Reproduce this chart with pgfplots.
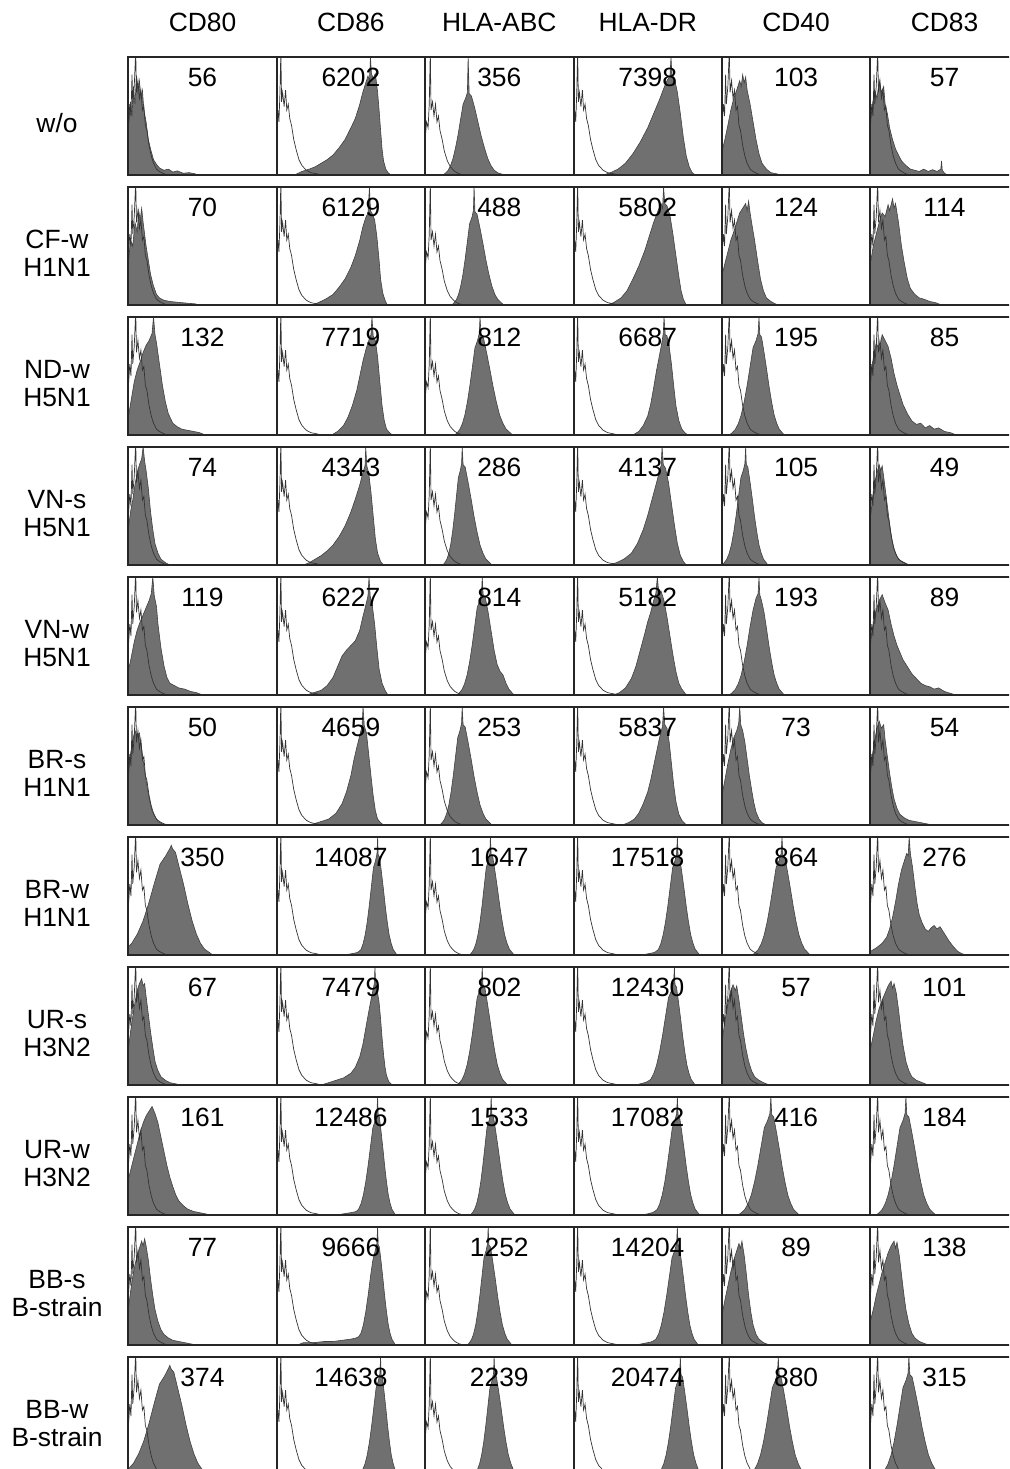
\documentclass[border=0pt]{standalone}
\usepackage{pgfplots}
\usepackage{pgfplotstable}
\pgfplotsset{compat=1.18}
\usepackage{fontspec}
\setmainfont{Liberation Sans}

\pgfplotstableread{
x y
0 0.4
0.01 0.6
0.018 0.5
0.025 0.85
0.03 0.6
0.04 0.75
0.05 1.05
0.055 0.7
0.065 0.8
0.075 0.65
0.085 0.72
0.095 0.55
0.105 0.58
0.115 0.42
0.125 0.38
0.14 0.25
0.155 0.16
0.17 0.1
0.19 0.05
0.21 0.03
0.24 0.01
0.27 0
}\cL
\pgfplotstableread{
x y
0 0.35
0.008 0.55
0.015 0.45
0.022 0.7
0.028 1.05
0.033 0.62
0.04 0.7
0.05 0.58
0.06 0.72
0.068 0.55
0.078 0.6
0.088 0.48
0.1 0.42
0.115 0.3
0.13 0.22
0.15 0.13
0.17 0.08
0.2 0.04
0.23 0.02
0.27 0.01
0.3 0
}\cM
\pgfplotstableread{
x y
0 0.3
0.01 0.45
0.02 0.4
0.028 0.6
0.035 1.05
0.04 0.55
0.05 0.62
0.06 0.5
0.07 0.6
0.08 0.45
0.09 0.5
0.1 0.38
0.115 0.3
0.13 0.2
0.15 0.12
0.17 0.07
0.2 0.03
0.23 0.01
0.26 0
}\cH

\pgfplotsset{
  hist/.style={scale only axis, width=74.2pt, height=59pt, anchor=north west,
    xmin=0, xmax=1, ymin=0, ymax=1, ticks=none,
    axis line style={line width=1pt, black!85}, axis on top, clip=true},
  histfill/.style={fill=black!56, draw=black!75, line width=0.3pt, mark=none},
  ctrl/.style={black!80, line width=0.35pt, mark=none},
}
\tikzset{lab/.style={anchor=base, inner sep=0pt, font=\fontsize{13.2}{15}\selectfont}}

\newcommand{\hp}[5]{%
  \begin{axis}[hist, at={(#1pt,-#2pt)}]
    \addplot[histfill] coordinates {#4} \closedcycle;
    \addplot[ctrl] table[x=x,y=y] {#5};
    \node[lab] at (rel axis cs:0.5,0.748) {#3};
  \end{axis}}

\begin{document}
\begin{tikzpicture}
\useasboundingbox (0,0) rectangle (504.5pt,-734.5pt);
\clip (0,0) rectangle (504.5pt,-734.5pt);

% headers
\node[lab] at (101.25pt,-15.85pt) {CD80};
\node[lab] at (175.45pt,-15.85pt) {CD86};
\node[lab] at (249.65pt,-15.85pt) {HLA-ABC};
\node[lab] at (323.85pt,-15.85pt) {HLA-DR};
\node[lab] at (398.05pt,-15.85pt) {CD40};
\node[lab] at (472.25pt,-15.85pt) {CD83};

% row labels
\node[lab] at (28.5pt,-66pt) {w/o};
\node[lab] at (28.5pt,-124.15pt) {CF-w};   \node[lab] at (28.5pt,-138.35pt) {H1N1};
\node[lab] at (28.5pt,-189.15pt) {ND-w};   \node[lab] at (28.5pt,-203.35pt) {H5N1};
\node[lab] at (28.5pt,-254.15pt) {VN-s};   \node[lab] at (28.5pt,-268.35pt) {H5N1};
\node[lab] at (28.5pt,-319.15pt) {VN-w};   \node[lab] at (28.5pt,-333.35pt) {H5N1};
\node[lab] at (28.5pt,-384.15pt) {BR-s};   \node[lab] at (28.5pt,-398.35pt) {H1N1};
\node[lab] at (28.5pt,-449.15pt) {BR-w};   \node[lab] at (28.5pt,-463.35pt) {H1N1};
\node[lab] at (28.5pt,-514.15pt) {UR-s};   \node[lab] at (28.5pt,-528.35pt) {H3N2};
\node[lab] at (28.5pt,-579.15pt) {UR-w};   \node[lab] at (28.5pt,-593.35pt) {H3N2};
\node[lab] at (28.5pt,-644.15pt) {BB-s};   \node[lab] at (28.5pt,-658.35pt) {B-strain};
\node[lab] at (28.5pt,-709.15pt) {BB-w};   \node[lab] at (28.5pt,-723.35pt) {B-strain};

% ---------- row 1: w/o
\hp{64.15}{28.5}{56}{(0,0)(0,0.4)(0.015,0.62)(0.025,0.5)(0.035,0.75)(0.045,0.6)(0.055,0.84)(0.065,0.7)(0.075,0.8)(0.085,0.66)(0.095,0.72)(0.105,0.55)(0.12,0.45)(0.135,0.3)(0.15,0.22)(0.17,0.13)(0.19,0.09)(0.21,0.06)(0.24,0.04)(0.27,0.05)(0.3,0.025)(0.33,0.035)(0.37,0.015)(0.41,0.02)(0.45,0.01)(0.47,0)}{\cL}
\hp{138.35}{28.5}{6202}{(0.12,0)(0.17,0.03)(0.22,0.05)(0.26,0.07)(0.3,0.1)(0.34,0.13)(0.38,0.17)(0.42,0.23)(0.46,0.3)(0.5,0.4)(0.53,0.48)(0.56,0.6)(0.58,0.7)(0.6,0.78)(0.615,0.84)(0.625,0.8)(0.632,1.0)(0.638,0.86)(0.65,0.82)(0.665,0.86)(0.68,0.7)(0.69,0.55)(0.7,0.38)(0.71,0.22)(0.72,0.12)(0.735,0.05)(0.75,0.02)(0.77,0)}{\cM}
\hp{212.55}{28.5}{356}{(0.12,0)(0.137,0.016)(0.154,0.038)(0.171,0.077)(0.188,0.14)(0.205,0.23)(0.222,0.34)(0.239,0.47)(0.256,0.6)(0.273,0.65)(0.285,0.7)(0.29,1.0)(0.297,0.69)(0.312,0.67)(0.334,0.57)(0.356,0.45)(0.378,0.33)(0.4,0.23)(0.422,0.14)(0.444,0.08)(0.466,0.04)(0.488,0.02)(0.51,0.01)(0.54,0)}{\cH}
\hp{286.75}{28.5}{7398}{(0.2,0)(0.25,0.02)(0.3,0.05)(0.35,0.1)(0.4,0.18)(0.45,0.28)(0.5,0.4)(0.54,0.52)(0.58,0.64)(0.61,0.74)(0.63,0.8)(0.65,0.84)(0.657,1.0)(0.663,0.85)(0.68,0.82)(0.7,0.7)(0.72,0.52)(0.74,0.32)(0.76,0.16)(0.78,0.07)(0.8,0.02)(0.82,0)}{\cM}
\hp{360.95}{28.5}{103}{(0,0)(0,0.2)(0.02,0.3)(0.04,0.42)(0.06,0.55)(0.08,0.65)(0.1,0.72)(0.12,0.8)(0.13,0.75)(0.14,0.85)(0.15,0.78)(0.16,0.83)(0.17,0.72)(0.19,0.6)(0.21,0.45)(0.23,0.3)(0.25,0.18)(0.27,0.1)(0.3,0.05)(0.33,0.02)(0.37,0.01)(0.4,0)}{\cL}
\hp{435.15}{28.5}{57}{(0,0)(0,0.45)(0.015,0.6)(0.03,0.72)(0.045,0.65)(0.06,0.8)(0.075,0.7)(0.09,0.75)(0.1,0.6)(0.115,0.52)(0.13,0.4)(0.15,0.3)(0.17,0.22)(0.19,0.17)(0.21,0.12)(0.24,0.08)(0.27,0.05)(0.3,0.04)(0.33,0.03)(0.36,0.05)(0.39,0.03)(0.42,0.045)(0.45,0.03)(0.475,0.05)(0.48,0.12)(0.485,0.04)(0.5,0.015)(0.52,0)}{\cL}

% ---------- row 2: CF-w H1N1
\hp{64.15}{93.5}{70}{(0,0)(0,0.35)(0.015,0.55)(0.03,0.5)(0.045,0.7)(0.06,0.62)(0.07,0.8)(0.08,0.72)(0.09,0.82)(0.1,0.7)(0.11,0.6)(0.12,0.5)(0.135,0.38)(0.15,0.26)(0.17,0.16)(0.19,0.09)(0.21,0.06)(0.24,0.04)(0.28,0.03)(0.32,0.025)(0.36,0.02)(0.4,0.015)(0.45,0.01)(0.48,0)}{\cL}
\hp{138.35}{93.5}{6129}{(0.24,0)(0.28,0.02)(0.33,0.05)(0.38,0.09)(0.42,0.15)(0.46,0.22)(0.5,0.32)(0.53,0.42)(0.56,0.55)(0.58,0.66)(0.6,0.74)(0.615,0.78)(0.625,1.0)(0.632,0.8)(0.645,0.77)(0.66,0.72)(0.675,0.58)(0.69,0.38)(0.7,0.22)(0.715,0.1)(0.73,0.04)(0.745,0)}{\cM}
\hp{212.55}{93.5}{488}{(0.18,0)(0.195,0.019)(0.21,0.044)(0.225,0.088)(0.24,0.16)(0.255,0.26)(0.27,0.39)(0.285,0.54)(0.3,0.69)(0.315,0.74)(0.3255,0.8)(0.33,1.0)(0.336,0.79)(0.35,0.77)(0.37,0.65)(0.39,0.52)(0.41,0.38)(0.43,0.26)(0.45,0.16)(0.47,0.09)(0.49,0.047)(0.51,0.023)(0.53,0)}{\cH}
\hp{286.75}{93.5}{5802}{(0.22,0)(0.27,0.02)(0.32,0.06)(0.36,0.12)(0.4,0.22)(0.44,0.33)(0.48,0.46)(0.51,0.58)(0.54,0.7)(0.57,0.8)(0.59,0.86)(0.6,0.82)(0.607,1.0)(0.615,0.86)(0.63,0.84)(0.65,0.76)(0.67,0.6)(0.69,0.42)(0.71,0.24)(0.725,0.12)(0.74,0.05)(0.76,0)}{\cM}
\hp{360.95}{93.5}{124}{(0,0)(0,0.25)(0.02,0.35)(0.04,0.45)(0.06,0.55)(0.08,0.62)(0.1,0.7)(0.12,0.78)(0.14,0.82)(0.16,0.86)(0.17,0.8)(0.18,0.88)(0.19,0.78)(0.2,0.7)(0.22,0.55)(0.24,0.38)(0.26,0.22)(0.28,0.12)(0.3,0.06)(0.33,0.03)(0.36,0.01)(0.38,0)}{\cL}
\hp{435.15}{93.5}{114}{(0,0)(0,0.35)(0.02,0.5)(0.04,0.6)(0.06,0.7)(0.08,0.78)(0.1,0.75)(0.12,0.85)(0.13,0.8)(0.15,0.9)(0.16,0.82)(0.17,0.86)(0.19,0.7)(0.21,0.5)(0.23,0.35)(0.25,0.22)(0.27,0.14)(0.3,0.09)(0.33,0.06)(0.36,0.05)(0.4,0.03)(0.44,0.02)(0.48,0)}{\cL}

% ---------- row 3: ND-w H5N1
\hp{64.15}{158.5}{132}{(0,0)(0,0.15)(0.02,0.3)(0.04,0.45)(0.06,0.55)(0.08,0.62)(0.1,0.7)(0.12,0.76)(0.14,0.8)(0.16,0.86)(0.17,1.0)(0.18,0.85)(0.19,0.78)(0.21,0.6)(0.23,0.42)(0.25,0.28)(0.27,0.18)(0.3,0.1)(0.33,0.07)(0.36,0.05)(0.4,0.04)(0.44,0.03)(0.48,0.02)(0.52,0)}{\cL}
\hp{138.35}{158.5}{7719}{(0.37,0)(0.41,0.03)(0.45,0.08)(0.48,0.15)(0.51,0.25)(0.54,0.38)(0.56,0.5)(0.58,0.62)(0.6,0.72)(0.62,0.8)(0.635,0.85)(0.642,1.0)(0.65,0.84)(0.665,0.8)(0.68,0.66)(0.695,0.45)(0.71,0.25)(0.725,0.12)(0.74,0.05)(0.76,0.02)(0.78,0)}{\cM}
\hp{212.55}{158.5}{812}{(0.2,0)(0.217,0.02)(0.234,0.047)(0.251,0.095)(0.268,0.17)(0.285,0.28)(0.302,0.42)(0.319,0.58)(0.336,0.74)(0.353,0.8)(0.365,0.86)(0.37,1.0)(0.377,0.85)(0.392,0.83)(0.414,0.7)(0.436,0.56)(0.458,0.41)(0.48,0.28)(0.502,0.17)(0.524,0.1)(0.546,0.05)(0.568,0.025)(0.59,0)}{\cH}
\hp{286.75}{158.5}{6687}{(0.4,0)(0.44,0.03)(0.47,0.08)(0.5,0.16)(0.52,0.26)(0.54,0.4)(0.56,0.55)(0.58,0.68)(0.595,0.78)(0.605,0.86)(0.61,1.0)(0.618,0.85)(0.63,0.84)(0.645,0.75)(0.66,0.6)(0.675,0.42)(0.69,0.25)(0.71,0.12)(0.73,0.05)(0.75,0.02)(0.77,0)}{\cM}
\hp{360.95}{158.5}{195}{(0.05,0)(0.07,0.02)(0.09,0.047)(0.11,0.095)(0.13,0.17)(0.15,0.28)(0.17,0.42)(0.19,0.58)(0.21,0.74)(0.23,0.8)(0.244,0.86)(0.25,1.0)(0.2551,0.85)(0.267,0.83)(0.284,0.7)(0.301,0.56)(0.318,0.41)(0.335,0.28)(0.352,0.17)(0.369,0.1)(0.386,0.05)(0.403,0.025)(0.42,0)}{\cL}
\hp{435.15}{158.5}{85}{(0,0)(0,0.5)(0.02,0.65)(0.04,0.78)(0.06,0.72)(0.08,0.85)(0.1,0.8)(0.12,0.75)(0.14,0.65)(0.16,0.52)(0.18,0.42)(0.2,0.34)(0.22,0.26)(0.25,0.18)(0.28,0.12)(0.31,0.09)(0.34,0.1)(0.37,0.06)(0.4,0.08)(0.43,0.05)(0.46,0.06)(0.5,0.03)(0.54,0.02)(0.58,0)}{\cL}

% ---------- row 4: VN-s H5N1
\hp{64.15}{223.5}{74}{(0,0)(0,0.3)(0.015,0.45)(0.03,0.55)(0.045,0.68)(0.06,0.78)(0.075,0.85)(0.09,0.9)(0.1,1.0)(0.11,0.88)(0.12,0.8)(0.135,0.65)(0.15,0.45)(0.165,0.3)(0.18,0.18)(0.2,0.1)(0.22,0.05)(0.25,0.02)(0.28,0)}{\cL}
\hp{138.35}{223.5}{4343}{(0.18,0)(0.22,0.02)(0.26,0.05)(0.3,0.08)(0.34,0.12)(0.38,0.17)(0.42,0.24)(0.46,0.33)(0.5,0.45)(0.53,0.56)(0.56,0.68)(0.58,0.78)(0.595,0.84)(0.6,1.0)(0.607,0.84)(0.62,0.78)(0.635,0.62)(0.65,0.42)(0.665,0.22)(0.68,0.1)(0.7,0.03)(0.72,0)}{\cM}
\hp{212.55}{223.5}{286}{(0.12,0)(0.133,0.02)(0.146,0.047)(0.159,0.095)(0.172,0.17)(0.185,0.28)(0.198,0.42)(0.211,0.58)(0.224,0.74)(0.237,0.8)(0.246,0.86)(0.25,1.0)(0.256,0.85)(0.27,0.83)(0.29,0.7)(0.31,0.56)(0.33,0.41)(0.35,0.28)(0.37,0.17)(0.39,0.1)(0.41,0.05)(0.43,0.025)(0.45,0)}{\cH}
\hp{286.75}{223.5}{4137}{(0.24,0)(0.29,0.02)(0.34,0.05)(0.39,0.1)(0.43,0.18)(0.47,0.3)(0.5,0.42)(0.53,0.56)(0.56,0.7)(0.58,0.8)(0.59,0.84)(0.597,1.0)(0.605,0.85)(0.62,0.82)(0.64,0.7)(0.66,0.52)(0.68,0.34)(0.7,0.18)(0.72,0.08)(0.74,0.03)(0.76,0)}{\cM}
\hp{360.95}{223.5}{105}{(0,0)(0.016,0.02)(0.032,0.047)(0.048,0.095)(0.064,0.17)(0.08,0.28)(0.096,0.42)(0.112,0.58)(0.128,0.74)(0.144,0.8)(0.155,0.86)(0.16,1.0)(0.1645,0.85)(0.175,0.83)(0.19,0.7)(0.205,0.56)(0.22,0.41)(0.235,0.28)(0.25,0.17)(0.265,0.1)(0.28,0.05)(0.295,0.025)(0.31,0)}{\cL}
\hp{435.15}{223.5}{49}{(0,0)(0,0.4)(0.015,0.55)(0.03,0.7)(0.045,0.78)(0.06,0.85)(0.07,0.8)(0.08,0.84)(0.09,0.75)(0.1,0.65)(0.115,0.5)(0.13,0.35)(0.145,0.22)(0.16,0.13)(0.18,0.07)(0.2,0.04)(0.23,0.02)(0.26,0)}{\cL}

% ---------- row 5: VN-w H5N1
\hp{64.15}{288.5}{119}{(0,0)(0,0.2)(0.02,0.32)(0.04,0.45)(0.06,0.55)(0.08,0.62)(0.1,0.68)(0.12,0.74)(0.14,0.8)(0.155,0.86)(0.165,1.0)(0.175,0.84)(0.19,0.75)(0.2,0.6)(0.22,0.4)(0.24,0.25)(0.26,0.15)(0.28,0.1)(0.31,0.08)(0.34,0.06)(0.38,0.05)(0.42,0.03)(0.46,0.02)(0.5,0)}{\cL}
\hp{138.35}{288.5}{6227}{(0.2,0)(0.25,0.02)(0.3,0.04)(0.34,0.08)(0.38,0.15)(0.41,0.24)(0.44,0.33)(0.47,0.38)(0.5,0.42)(0.53,0.46)(0.56,0.55)(0.58,0.66)(0.6,0.76)(0.615,0.84)(0.622,1.0)(0.63,0.84)(0.645,0.75)(0.66,0.6)(0.675,0.4)(0.69,0.22)(0.71,0.1)(0.73,0.04)(0.75,0)}{\cM}
\hp{212.55}{288.5}{814}{(0.215,0)(0.232,0.02)(0.249,0.047)(0.266,0.095)(0.283,0.17)(0.3,0.28)(0.317,0.42)(0.334,0.58)(0.351,0.74)(0.368,0.8)(0.38,0.86)(0.385,1.0)(0.391,0.85)(0.405,0.83)(0.425,0.7)(0.445,0.54)(0.465,0.38)(0.485,0.26)(0.505,0.2)(0.525,0.17)(0.545,0.1)(0.565,0.05)(0.585,0.02)(0.6,0)}{\cH}
\hp{286.75}{288.5}{5182}{(0.27,0)(0.31,0.02)(0.35,0.06)(0.39,0.14)(0.42,0.24)(0.45,0.38)(0.48,0.52)(0.5,0.62)(0.52,0.7)(0.54,0.8)(0.555,0.86)(0.565,1.0)(0.575,0.86)(0.59,0.88)(0.61,0.8)(0.63,0.66)(0.65,0.5)(0.67,0.34)(0.69,0.2)(0.71,0.1)(0.73,0.05)(0.76,0)}{\cM}
\hp{360.95}{288.5}{193}{(0.05,0)(0.07,0.02)(0.09,0.047)(0.11,0.095)(0.13,0.17)(0.15,0.28)(0.17,0.42)(0.19,0.58)(0.21,0.72)(0.23,0.82)(0.244,0.86)(0.25,1.0)(0.2551,0.85)(0.267,0.8)(0.284,0.7)(0.301,0.56)(0.318,0.41)(0.335,0.28)(0.352,0.17)(0.369,0.1)(0.386,0.05)(0.403,0.025)(0.42,0)}{\cL}
\hp{435.15}{288.5}{89}{(0,0)(0,0.45)(0.02,0.6)(0.04,0.72)(0.06,0.8)(0.08,0.85)(0.1,0.78)(0.12,0.72)(0.14,0.6)(0.16,0.5)(0.18,0.42)(0.2,0.36)(0.22,0.3)(0.25,0.24)(0.28,0.18)(0.31,0.14)(0.34,0.1)(0.37,0.08)(0.4,0.07)(0.43,0.05)(0.46,0.06)(0.5,0.03)(0.55,0.01)(0.58,0)}{\cL}

% ---------- row 6: BR-s H1N1
\hp{64.15}{353.5}{50}{(0,0)(0,0.45)(0.015,0.6)(0.03,0.72)(0.045,0.8)(0.06,0.75)(0.075,0.78)(0.09,0.65)(0.1,0.55)(0.115,0.42)(0.13,0.3)(0.145,0.2)(0.16,0.12)(0.18,0.07)(0.2,0.03)(0.23,0.01)(0.26,0)}{\cL}
\hp{138.35}{353.5}{4659}{(0.2,0)(0.25,0.01)(0.3,0.03)(0.35,0.05)(0.4,0.1)(0.44,0.18)(0.47,0.28)(0.5,0.42)(0.52,0.55)(0.54,0.66)(0.56,0.76)(0.575,0.84)(0.582,1.0)(0.59,0.84)(0.605,0.78)(0.62,0.6)(0.635,0.42)(0.65,0.25)(0.665,0.12)(0.68,0.05)(0.7,0.02)(0.72,0)}{\cM}
\hp{212.55}{353.5}{253}{(0.1,0)(0.115,0.02)(0.13,0.047)(0.145,0.095)(0.16,0.17)(0.175,0.28)(0.19,0.42)(0.205,0.58)(0.22,0.74)(0.235,0.8)(0.2455,0.86)(0.25,1.0)(0.256,0.85)(0.27,0.83)(0.29,0.7)(0.31,0.56)(0.33,0.41)(0.35,0.28)(0.37,0.17)(0.39,0.1)(0.41,0.05)(0.43,0.025)(0.45,0)}{\cH}
\hp{286.75}{353.5}{5837}{(0.33,0)(0.37,0.02)(0.41,0.05)(0.44,0.1)(0.47,0.18)(0.5,0.28)(0.52,0.38)(0.54,0.5)(0.56,0.62)(0.58,0.74)(0.6,0.84)(0.607,1.0)(0.615,0.85)(0.63,0.82)(0.645,0.7)(0.66,0.52)(0.675,0.34)(0.69,0.2)(0.71,0.09)(0.73,0.04)(0.76,0)}{\cM}
\hp{360.95}{353.5}{73}{(0,0)(0,0.25)(0.02,0.38)(0.04,0.52)(0.06,0.64)(0.08,0.74)(0.1,0.8)(0.113,0.86)(0.12,1.0)(0.127,0.85)(0.14,0.8)(0.155,0.7)(0.17,0.56)(0.185,0.42)(0.2,0.3)(0.215,0.19)(0.23,0.11)(0.25,0.05)(0.27,0.02)(0.3,0)}{\cL}
\hp{435.15}{353.5}{54}{(0,0)(0,0.45)(0.015,0.6)(0.03,0.72)(0.045,0.82)(0.06,0.88)(0.075,0.82)(0.09,0.85)(0.1,0.72)(0.115,0.58)(0.13,0.44)(0.145,0.32)(0.16,0.22)(0.18,0.14)(0.2,0.09)(0.23,0.06)(0.26,0.04)(0.3,0.03)(0.34,0.02)(0.38,0.01)(0.42,0)}{\cL}

% ---------- row 7: BR-w H1N1
\hp{64.15}{418.5}{350}{(-0.09,0)(-0.052,0.02)(-0.014,0.05)(0.024,0.1)(0.062,0.18)(0.1,0.29)(0.138,0.44)(0.176,0.61)(0.214,0.77)(0.252,0.84)(0.279,0.9)(0.29,0.93)(0.298,0.9)(0.318,0.87)(0.346,0.73)(0.374,0.59)(0.402,0.43)(0.43,0.29)(0.458,0.18)(0.486,0.1)(0.514,0.05)(0.542,0.025)(0.57,0)}{\cL}
\hp{138.35}{418.5}{14087}{(0.45,0)(0.5,0.01)(0.54,0.02)(0.554,0.03)(0.568,0.047)(0.582,0.095)(0.596,0.17)(0.61,0.28)(0.624,0.42)(0.638,0.58)(0.652,0.74)(0.666,0.8)(0.676,0.86)(0.68,1.0)(0.684,0.85)(0.693,0.83)(0.706,0.7)(0.719,0.56)(0.732,0.41)(0.745,0.28)(0.758,0.17)(0.771,0.1)(0.784,0.05)(0.797,0.025)(0.81,0)}{\cM}
\hp{212.55}{418.5}{1647}{(0.3,0)(0.314,0.02)(0.328,0.047)(0.342,0.095)(0.356,0.17)(0.37,0.28)(0.384,0.42)(0.398,0.58)(0.412,0.74)(0.426,0.8)(0.436,0.86)(0.44,1.0)(0.445,0.85)(0.456,0.83)(0.472,0.7)(0.488,0.56)(0.504,0.41)(0.52,0.28)(0.536,0.17)(0.552,0.1)(0.568,0.05)(0.584,0.025)(0.6,0)}{\cH}
\hp{286.75}{418.5}{17518}{(0.46,0)(0.5,0.01)(0.54,0.02)(0.556,0.03)(0.572,0.047)(0.588,0.095)(0.604,0.17)(0.62,0.28)(0.636,0.42)(0.652,0.58)(0.668,0.74)(0.684,0.8)(0.695,0.86)(0.7,1.0)(0.7045,0.85)(0.715,0.83)(0.73,0.7)(0.745,0.56)(0.76,0.41)(0.775,0.28)(0.79,0.17)(0.805,0.1)(0.82,0.05)(0.835,0.025)(0.85,0)}{\cM}
\hp{360.95}{418.5}{864}{(0.205,0)(0.225,0.02)(0.245,0.047)(0.265,0.095)(0.285,0.17)(0.305,0.28)(0.325,0.42)(0.345,0.58)(0.365,0.74)(0.385,0.8)(0.399,0.86)(0.405,1.0)(0.4107,0.85)(0.424,0.83)(0.443,0.7)(0.462,0.56)(0.481,0.41)(0.5,0.28)(0.519,0.17)(0.538,0.1)(0.557,0.05)(0.576,0.025)(0.595,0)}{\cL}
\hp{435.15}{418.5}{276}{(0,0)(0,0.03)(0.04,0.06)(0.08,0.1)(0.11,0.15)(0.13,0.22)(0.15,0.32)(0.17,0.45)(0.19,0.6)(0.21,0.72)(0.23,0.8)(0.245,0.86)(0.255,0.84)(0.262,1.0)(0.27,0.86)(0.285,0.74)(0.3,0.58)(0.315,0.44)(0.33,0.34)(0.35,0.27)(0.37,0.22)(0.39,0.2)(0.41,0.23)(0.43,0.25)(0.45,0.22)(0.47,0.24)(0.49,0.2)(0.51,0.16)(0.53,0.12)(0.56,0.07)(0.59,0.03)(0.62,0.01)(0.65,0)}{\cL}

% ---------- row 8: UR-s H3N2
\hp{64.15}{483.5}{67}{(0,0)(0,0.3)(0.015,0.45)(0.03,0.58)(0.045,0.7)(0.06,0.8)(0.075,0.86)(0.09,0.9)(0.1,0.84)(0.11,0.86)(0.12,0.75)(0.135,0.6)(0.15,0.45)(0.165,0.32)(0.18,0.2)(0.2,0.12)(0.22,0.07)(0.25,0.04)(0.28,0.02)(0.32,0.01)(0.35,0)}{\cL}
\hp{138.35}{483.5}{7479}{(0.3,0)(0.35,0.02)(0.4,0.04)(0.45,0.06)(0.5,0.1)(0.53,0.15)(0.56,0.24)(0.58,0.34)(0.6,0.48)(0.62,0.62)(0.635,0.72)(0.648,0.8)(0.658,0.86)(0.662,1.0)(0.667,0.85)(0.675,0.82)(0.69,0.7)(0.7,0.56)(0.71,0.4)(0.72,0.26)(0.73,0.15)(0.74,0.08)(0.755,0.03)(0.77,0.01)(0.78,0)}{\cM}
\hp{212.55}{483.5}{802}{(0.215,0)(0.232,0.02)(0.249,0.047)(0.266,0.095)(0.283,0.17)(0.3,0.28)(0.317,0.42)(0.334,0.58)(0.351,0.74)(0.368,0.8)(0.38,0.86)(0.385,1.0)(0.39,0.85)(0.402,0.83)(0.419,0.7)(0.436,0.56)(0.453,0.41)(0.47,0.28)(0.487,0.17)(0.504,0.1)(0.521,0.05)(0.538,0.025)(0.555,0)}{\cH}
\hp{286.75}{483.5}{12430}{(0.42,0)(0.45,0.01)(0.48,0.02)(0.5,0.03)(0.52,0.047)(0.54,0.095)(0.56,0.17)(0.58,0.28)(0.6,0.42)(0.62,0.58)(0.64,0.74)(0.66,0.8)(0.674,0.86)(0.68,1.0)(0.684,0.85)(0.694,0.83)(0.708,0.7)(0.722,0.56)(0.736,0.41)(0.75,0.28)(0.764,0.17)(0.778,0.1)(0.792,0.05)(0.806,0.025)(0.82,0)}{\cM}
\hp{360.95}{483.5}{57}{(0,0)(0,0.35)(0.015,0.5)(0.03,0.62)(0.045,0.72)(0.06,0.8)(0.075,0.85)(0.09,0.8)(0.1,0.84)(0.115,0.72)(0.13,0.58)(0.145,0.44)(0.16,0.32)(0.18,0.2)(0.2,0.12)(0.22,0.07)(0.25,0.04)(0.28,0.02)(0.32,0)}{\cL}
\hp{435.15}{483.5}{101}{(0,0)(0,0.3)(0.02,0.42)(0.04,0.55)(0.06,0.65)(0.08,0.72)(0.1,0.78)(0.12,0.84)(0.14,0.88)(0.15,0.82)(0.16,0.86)(0.175,0.78)(0.19,0.64)(0.205,0.48)(0.22,0.34)(0.24,0.2)(0.26,0.12)(0.28,0.07)(0.31,0.04)(0.35,0.02)(0.39,0)}{\cL}

% ---------- row 9: UR-w H3N2
\hp{64.15}{548.5}{161}{(0,0)(0,0.3)(0.02,0.4)(0.04,0.5)(0.06,0.6)(0.08,0.7)(0.1,0.78)(0.12,0.84)(0.14,0.88)(0.16,0.92)(0.18,0.86)(0.2,0.78)(0.22,0.66)(0.24,0.54)(0.26,0.42)(0.28,0.32)(0.3,0.24)(0.32,0.17)(0.34,0.12)(0.37,0.08)(0.4,0.05)(0.44,0.03)(0.48,0.02)(0.52,0.01)(0.55,0)}{\cL}
\hp{138.35}{548.5}{12486}{(0.4,0)(0.45,0.01)(0.5,0.02)(0.52,0.025)(0.536,0.03)(0.552,0.05)(0.568,0.095)(0.584,0.17)(0.6,0.28)(0.616,0.42)(0.632,0.58)(0.648,0.74)(0.664,0.8)(0.675,0.86)(0.68,1.0)(0.684,0.85)(0.692,0.83)(0.704,0.7)(0.716,0.56)(0.728,0.41)(0.74,0.28)(0.752,0.17)(0.764,0.1)(0.776,0.05)(0.788,0.025)(0.8,0)}{\cM}
\hp{212.55}{548.5}{1533}{(0.305,0)(0.319,0.02)(0.333,0.047)(0.347,0.095)(0.361,0.17)(0.375,0.28)(0.389,0.42)(0.403,0.58)(0.417,0.74)(0.431,0.8)(0.441,0.86)(0.445,1.0)(0.45,0.85)(0.461,0.83)(0.477,0.7)(0.493,0.56)(0.509,0.41)(0.525,0.28)(0.541,0.17)(0.557,0.1)(0.573,0.05)(0.589,0.025)(0.605,0)}{\cH}
\hp{286.75}{548.5}{17082}{(0.46,0)(0.5,0.01)(0.53,0.02)(0.547,0.03)(0.564,0.047)(0.581,0.095)(0.598,0.17)(0.615,0.28)(0.632,0.42)(0.649,0.58)(0.666,0.74)(0.683,0.8)(0.695,0.86)(0.7,1.0)(0.7045,0.85)(0.715,0.83)(0.73,0.7)(0.745,0.56)(0.76,0.41)(0.775,0.28)(0.79,0.17)(0.805,0.1)(0.82,0.05)(0.835,0.025)(0.85,0)}{\cM}
\hp{360.95}{548.5}{416}{(0.11,0)(0.132,0.02)(0.154,0.047)(0.176,0.095)(0.198,0.17)(0.22,0.28)(0.242,0.42)(0.264,0.58)(0.286,0.74)(0.308,0.8)(0.3234,0.86)(0.33,1.0)(0.3357,0.85)(0.349,0.83)(0.368,0.7)(0.387,0.56)(0.406,0.41)(0.425,0.28)(0.444,0.17)(0.463,0.1)(0.482,0.05)(0.501,0.025)(0.52,0)}{\cL}
\hp{435.15}{548.5}{184}{(0.04,0)(0.06,0.02)(0.08,0.047)(0.1,0.095)(0.12,0.17)(0.14,0.28)(0.16,0.42)(0.18,0.58)(0.2,0.74)(0.22,0.8)(0.234,0.86)(0.24,1.0)(0.246,0.85)(0.26,0.83)(0.28,0.7)(0.3,0.56)(0.32,0.41)(0.34,0.28)(0.36,0.17)(0.38,0.1)(0.4,0.05)(0.42,0.025)(0.44,0)}{\cL}

% ---------- row 10: BB-s B-strain
\hp{64.15}{613.5}{77}{(0,0)(0,0.3)(0.015,0.45)(0.03,0.58)(0.045,0.68)(0.06,0.76)(0.075,0.82)(0.09,0.88)(0.1,0.84)(0.11,0.9)(0.12,0.84)(0.135,0.72)(0.15,0.56)(0.165,0.42)(0.18,0.3)(0.2,0.2)(0.22,0.13)(0.24,0.09)(0.27,0.06)(0.3,0.04)(0.34,0.03)(0.38,0.02)(0.42,0.01)(0.46,0)}{\cL}
\hp{138.35}{613.5}{9666}{(0.14,0)(0.18,0.02)(0.25,0.02)(0.32,0.03)(0.38,0.03)(0.44,0.04)(0.5,0.05)(0.536,0.06)(0.552,0.07)(0.568,0.1)(0.584,0.17)(0.6,0.28)(0.616,0.42)(0.632,0.58)(0.648,0.72)(0.664,0.8)(0.675,0.86)(0.68,1.0)(0.684,0.85)(0.692,0.83)(0.704,0.7)(0.716,0.56)(0.728,0.41)(0.74,0.28)(0.752,0.17)(0.764,0.1)(0.776,0.05)(0.788,0.025)(0.8,0)}{\cM}
\hp{212.55}{613.5}{1252}{(0.285,0)(0.299,0.02)(0.313,0.047)(0.327,0.095)(0.341,0.17)(0.355,0.28)(0.369,0.42)(0.383,0.58)(0.397,0.74)(0.411,0.8)(0.421,0.86)(0.425,1.0)(0.43,0.85)(0.441,0.83)(0.457,0.7)(0.473,0.56)(0.489,0.41)(0.505,0.28)(0.521,0.17)(0.537,0.1)(0.553,0.05)(0.569,0.025)(0.585,0)}{\cH}
\hp{286.75}{613.5}{14204}{(0.42,0)(0.46,0.01)(0.5,0.02)(0.52,0.025)(0.538,0.035)(0.556,0.05)(0.574,0.095)(0.592,0.17)(0.61,0.28)(0.628,0.42)(0.646,0.58)(0.664,0.74)(0.682,0.8)(0.6946,0.86)(0.7,1.0)(0.704,0.85)(0.714,0.83)(0.728,0.7)(0.742,0.56)(0.756,0.41)(0.77,0.28)(0.784,0.17)(0.798,0.1)(0.812,0.05)(0.826,0.025)(0.84,0)}{\cM}
\hp{360.95}{613.5}{89}{(0,0)(0,0.25)(0.02,0.38)(0.04,0.5)(0.06,0.62)(0.08,0.72)(0.1,0.8)(0.115,0.86)(0.125,0.82)(0.135,0.88)(0.15,0.76)(0.165,0.6)(0.18,0.42)(0.195,0.28)(0.21,0.17)(0.23,0.09)(0.25,0.05)(0.28,0.02)(0.32,0)}{\cL}
\hp{435.15}{613.5}{138}{(0,0)(0,0.2)(0.02,0.3)(0.04,0.42)(0.06,0.52)(0.08,0.62)(0.1,0.7)(0.12,0.78)(0.14,0.84)(0.16,0.88)(0.17,0.82)(0.18,0.87)(0.195,0.76)(0.21,0.6)(0.225,0.44)(0.24,0.3)(0.26,0.18)(0.28,0.1)(0.3,0.06)(0.33,0.03)(0.37,0.01)(0.4,0)}{\cL}

% ---------- row 11: BB-w B-strain
\hp{64.15}{678.5}{374}{(-0.07,0)(-0.035,0.02)(0,0.05)(0.035,0.1)(0.07,0.18)(0.105,0.29)(0.14,0.44)(0.175,0.61)(0.21,0.77)(0.245,0.84)(0.2695,0.9)(0.28,0.93)(0.288,0.9)(0.307,0.87)(0.334,0.73)(0.361,0.59)(0.388,0.43)(0.415,0.29)(0.442,0.18)(0.469,0.1)(0.496,0.05)(0.523,0.025)(0.55,0)}{\cL}
\hp{138.35}{678.5}{14638}{(0.45,0)(0.5,0.01)(0.55,0.02)(0.565,0.025)(0.58,0.047)(0.595,0.095)(0.61,0.17)(0.625,0.28)(0.64,0.42)(0.655,0.58)(0.67,0.74)(0.685,0.8)(0.6955,0.86)(0.7,1.0)(0.7036,0.85)(0.712,0.83)(0.724,0.7)(0.736,0.56)(0.748,0.41)(0.76,0.28)(0.772,0.17)(0.784,0.1)(0.796,0.05)(0.808,0.025)(0.82,0)}{\cM}
\hp{212.55}{678.5}{2239}{(0.325,0)(0.339,0.02)(0.353,0.047)(0.367,0.095)(0.381,0.17)(0.395,0.28)(0.409,0.42)(0.423,0.58)(0.437,0.74)(0.451,0.8)(0.461,0.86)(0.465,1.0)(0.47,0.85)(0.481,0.83)(0.497,0.7)(0.513,0.56)(0.529,0.41)(0.545,0.28)(0.561,0.17)(0.577,0.1)(0.593,0.05)(0.609,0.025)(0.625,0)}{\cH}
\hp{286.75}{678.5}{20474}{(0.48,0)(0.52,0.01)(0.56,0.02)(0.576,0.03)(0.592,0.047)(0.608,0.095)(0.624,0.17)(0.64,0.28)(0.656,0.42)(0.672,0.58)(0.688,0.74)(0.704,0.8)(0.715,0.86)(0.72,1.0)(0.7245,0.85)(0.735,0.83)(0.75,0.7)(0.765,0.56)(0.78,0.41)(0.795,0.28)(0.81,0.17)(0.825,0.1)(0.84,0.05)(0.855,0.025)(0.87,0)}{\cM}
\hp{360.95}{678.5}{880}{(0.18,0)(0.2,0.02)(0.22,0.047)(0.24,0.095)(0.26,0.17)(0.28,0.28)(0.3,0.42)(0.32,0.58)(0.34,0.74)(0.36,0.8)(0.374,0.86)(0.38,1.0)(0.3857,0.85)(0.399,0.83)(0.418,0.7)(0.437,0.56)(0.456,0.41)(0.475,0.28)(0.494,0.17)(0.513,0.1)(0.532,0.05)(0.551,0.025)(0.57,0)}{\cL}
\hp{435.15}{678.5}{315}{(0.06,0)(0.08,0.02)(0.1,0.047)(0.12,0.095)(0.14,0.17)(0.16,0.28)(0.18,0.42)(0.2,0.58)(0.22,0.74)(0.24,0.8)(0.254,0.86)(0.26,1.0)(0.2666,0.85)(0.282,0.83)(0.304,0.7)(0.326,0.56)(0.348,0.41)(0.37,0.28)(0.392,0.17)(0.414,0.1)(0.436,0.05)(0.458,0.025)(0.48,0)}{\cL}

\end{tikzpicture}
\end{document}
